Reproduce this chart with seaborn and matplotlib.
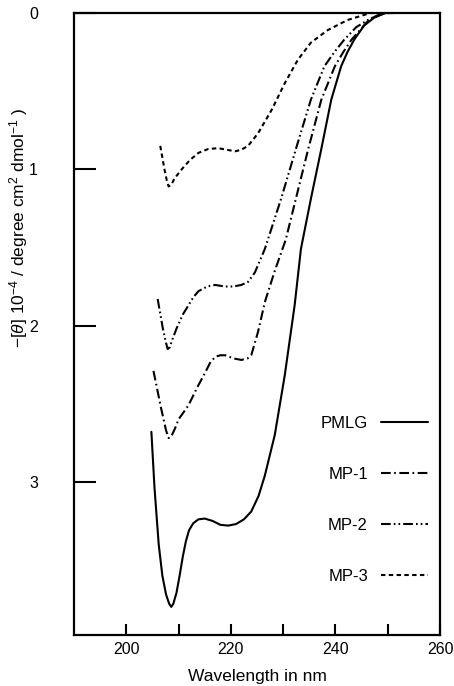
import numpy as np
import pandas as pd
import matplotlib
matplotlib.use("Agg")
import matplotlib.pyplot as plt
import seaborn as sns

sns.set_style("ticks")
plt.rcParams['font.family'] = ['Liberation Sans', 'DejaVu Sans']
plt.rcParams['mathtext.fontset'] = 'custom'
plt.rcParams['mathtext.rm'] = 'Liberation Sans'
plt.rcParams['mathtext.it'] = 'Liberation Sans:italic'
plt.rcParams['lines.scale_dashes'] = False
plt.rcParams['text.color'] = 'black'
plt.rcParams['axes.labelcolor'] = 'black'
plt.rcParams['xtick.color'] = 'black'
plt.rcParams['ytick.color'] = 'black'
plt.rcParams['axes.edgecolor'] = 'black'

# ---- data: wavelength in nm, -[theta]*1e-4 ----
pmlg_wl = [204.8, 205.4, 206.2, 206.9, 207.6, 208.2, 208.6, 209.0, 209.6, 210.2, 210.8,
           211.4, 212.0, 212.8, 213.8, 215.0, 216.5, 218.0, 219.5, 221.0, 222.5, 223.9,
           225.3, 226.5, 228.4, 230.3, 232.2, 233.4, 235.3, 237.3, 239.2, 241.1, 242.3,
           243.6, 245.5, 247.4, 249.5, 251.0]
pmlg_val = [2.68, 3.04, 3.40, 3.60, 3.72, 3.78, 3.80, 3.78, 3.71, 3.60, 3.48,
            3.38, 3.31, 3.265, 3.24, 3.235, 3.25, 3.275, 3.28, 3.27, 3.24, 3.19,
            3.09, 2.96, 2.70, 2.32, 1.87, 1.51, 1.19, 0.87, 0.555, 0.34, 0.25,
            0.17, 0.08, 0.03, 0.0, 0.0]

mp1_wl = [205.2, 206.6, 207.6, 208.1, 208.6, 209.3, 210.0, 211.9, 213.5, 215.1, 216.0,
          217.0, 218.0, 218.9, 220.5, 222.0, 223.2, 223.9, 225.2, 226.5, 228.4, 230.5,
          232.2, 234.8, 237.3, 239.9, 241.5, 243.1, 246.5, 249.5, 251.0]
mp1_val = [2.29, 2.52, 2.67, 2.72, 2.71, 2.66, 2.60, 2.51, 2.40, 2.30, 2.24,
           2.20, 2.19, 2.19, 2.21, 2.22, 2.21, 2.19, 2.04, 1.85, 1.65, 1.45,
           1.22, 0.87, 0.555, 0.34, 0.25, 0.17, 0.04, 0.0, 0.0]

mp2_wl = [206.0, 207.0, 207.6, 207.9, 208.3, 208.8, 209.6, 210.8, 211.9, 212.8, 213.8,
          215.5, 217.0, 218.8, 220.5, 222.0, 223.3, 224.6, 226.5, 229.6, 232.8, 235.3,
          237.9, 239.8, 241.7, 244.0, 246.2, 249.0, 251.0]
mp2_val = [1.83, 2.02, 2.11, 2.15, 2.14, 2.09, 2.02, 1.93, 1.87, 1.82, 1.78,
           1.75, 1.74, 1.75, 1.75, 1.74, 1.72, 1.66, 1.51, 1.19, 0.83, 0.555,
           0.34, 0.25, 0.17, 0.09, 0.045, 0.0, 0.0]

mp3_wl = [206.5, 207.3, 207.8, 208.1, 208.6, 209.2, 210.6, 212.2, 213.8, 215.7, 217.6,
          219.2, 220.8, 222.0, 223.3, 225.2, 227.8, 230.3, 232.8, 235.3, 238.5, 242.3,
          246.7, 251.0]
mp3_val = [0.85, 1.00, 1.08, 1.11, 1.10, 1.06, 1.00, 0.94, 0.895, 0.87, 0.865,
           0.875, 0.885, 0.875, 0.85, 0.77, 0.62, 0.45, 0.30, 0.19, 0.11, 0.045,
           0.0, 0.0]

samples = ['PMLG', 'MP-1', 'MP-2', 'MP-3']
x_ticks = [200, 220, 240, 260]
x_minor = [210, 230, 250]
y_ticks = [0, 1, 2, 3]

df = pd.concat([
    pd.DataFrame({'wl': pmlg_wl, 'val': pmlg_val, 'sample': 'PMLG'}),
    pd.DataFrame({'wl': mp1_wl, 'val': mp1_val, 'sample': 'MP-1'}),
    pd.DataFrame({'wl': mp2_wl, 'val': mp2_val, 'sample': 'MP-2'}),
    pd.DataFrame({'wl': mp3_wl, 'val': mp3_val, 'sample': 'MP-3'}),
], ignore_index=True)

fig = plt.figure(figsize=(4.54, 6.86), dpi=100)
ax = fig.add_axes([74 / 454, 51 / 686, 366 / 454, 622 / 686])

dashes = {'PMLG': '', 'MP-1': (7, 2.5, 1.2, 2.5),
          'MP-2': (7, 2.2, 1.2, 2.2, 1.2, 2.2), 'MP-3': (3.2, 2.4)}
sns.lineplot(data=df, x='wl', y='val', hue='sample', style='sample',
             hue_order=samples, style_order=samples,
             palette=['black'] * 4, dashes=dashes, estimator=None, sort=False,
             linewidth=1.5, ax=ax)

ax.set_xlim(190, 260)
ax.set_ylim(3.98, 0)
ax.set_xticks(x_ticks)
ax.set_xticks(x_minor, minor=True)
ax.set_yticks(y_ticks)
ax.set_yticklabels([str(v) for v in y_ticks])
ax.tick_params(axis='x', which='both', direction='in', length=8, width=1.5,
               labelsize=11.5, pad=5)
ax.tick_params(axis='y', direction='in', length=16, width=1.5, labelsize=11.5, pad=26)
for s in ax.spines.values():
    s.set_visible(True)
    s.set_linewidth(1.6)
    s.set_color('black')

ax.set_xlabel('Wavelength in nm', fontsize=12.5, labelpad=9)
ax.set_ylabel('')
fig.text(19 / 454, 1 - 228 / 686,
         r'$-[\theta]\ 10^{-4}$ / degree cm$^{2}$ dmol$^{-1}$ )',
         rotation=90, ha='center', va='center', fontsize=12.5)

handles, labels = ax.get_legend_handles_labels()
ax.get_legend().remove()
ax.legend(handles, labels, markerfirst=False, frameon=False, loc='upper right',
          bbox_to_anchor=(0.967, 0.352), borderpad=0, borderaxespad=0,
          handlelength=2.8, handletextpad=0.8, labelspacing=2.15, fontsize=12)

fig.savefig('out.png', dpi=100)
